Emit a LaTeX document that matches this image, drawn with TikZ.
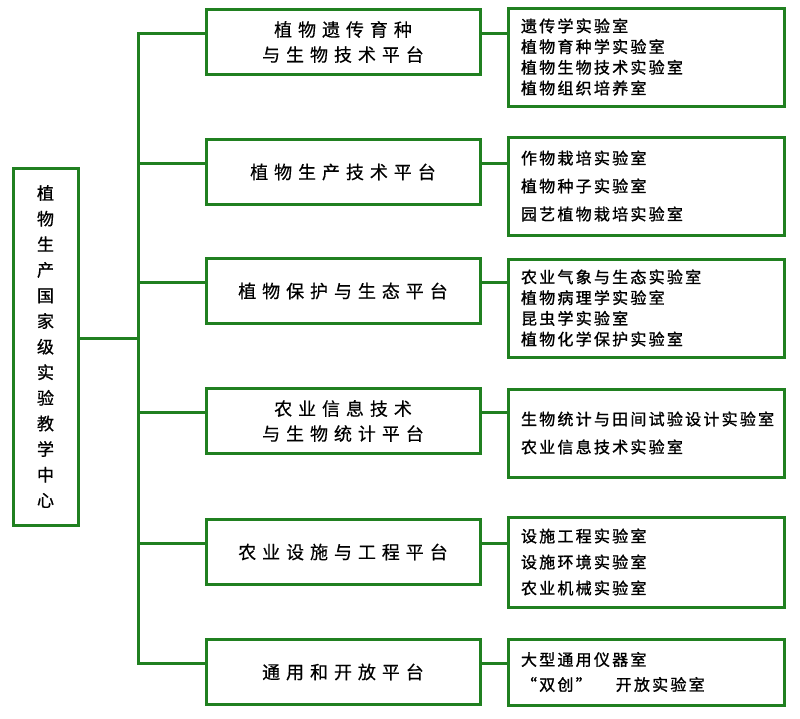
\documentclass[tikz,border=0pt]{standalone}
\usepackage{fontspec}
\newfontfamily\cenfont[FakeBold=0.8]{Noto Sans CJK SC}
\newfontfamily\midfont[LetterSpace=33,FakeBold=0.4]{Noto Sans CJK SC}
\newfontfamily\labfont[LetterSpace=14,FakeBold=1.2]{Noto Sans CJK SC}
\definecolor{boxgreen}{RGB}{32,128,32}

\begin{document}
\begin{tikzpicture}[x=1pt,y=-1pt,
  gbox/.style={draw=boxgreen,line width=3pt,inner sep=0pt},
  link/.style={draw=boxgreen,line width=3pt}]
\useasboundingbox (0,0) rectangle (800,718);

\node[gbox,minimum width=65pt,minimum height=357pt,align=center,
  font={\cenfont\fontsize{17}{25.6}\selectfont}] (centre) at (45.5,346.5)
  {植\\物\\生\\产\\国\\家\\级\\实\\验\\教\\学\\中\\心};

\foreach \y/\n/\t in {42/m1/植物遗传育种\\与生物技术平台, 172/m2/植物生产技术平台, 291/m3/植物保护与生态平台,
    421/m4/农业信息技术\\与生物统计平台, 552/m5/农业设施与工程平台, 672/m6/通用和开放平台}
  \node[gbox,minimum width=274pt,minimum height=65pt,align=center,
    font={\midfont\fontsize{18}{25}\selectfont}] (\n) at (343,\y) {\t};

\foreach \y/\h/\b/\n/\t in {57/98/20.7/r1/遗传学实验室\\植物育种学实验室\\植物生物技术实验室\\植物组织培养室,
    186/98/28/r2/作物栽培实验室\\植物种子实验室\\园艺植物栽培实验室,
    308/98/20.7/r3/农业气象与生态实验室\\植物病理学实验室\\昆虫学实验室\\植物化学保护实验室,
    433/88/28/r4/生物统计与田间试验设计实验室\\农业信息技术实验室,
    562/90/26/r5/设施工程实验室\\设施环境实验室\\农业机械实验室,
    672/66/25/r6/大型通用仪器室\\“双创”\hspace{24pt}开放实验室}
  \node[gbox,text width=250pt,inner xsep=13pt,minimum height=\h pt,align=left,
    font={\labfont\fontsize{16}{\b}\selectfont}] (\n) at (646,\y) {\t};

\coordinate (spine) at (138,339);
\draw[link] ([yshift=8pt]centre.east) -- ([yshift=8pt]centre.east -| spine);
\draw[link] ([yshift=9pt]m1.west) -| (spine) |- ([yshift=9pt]m6.west);
\foreach \n in {m2,m3,m4,m5}
  \draw[link] ([yshift=9pt]\n.west -| spine) -- ([yshift=9pt]\n.west);
\foreach \s/\t in {m1/r1, m2/r2, m3/r3, m4/r4, m5/r5, m6/r6}
  \draw[link] ([yshift=9pt]\s.east) -- ([yshift=9pt]\s.east -| \t.west);
\end{tikzpicture}
\end{document}
